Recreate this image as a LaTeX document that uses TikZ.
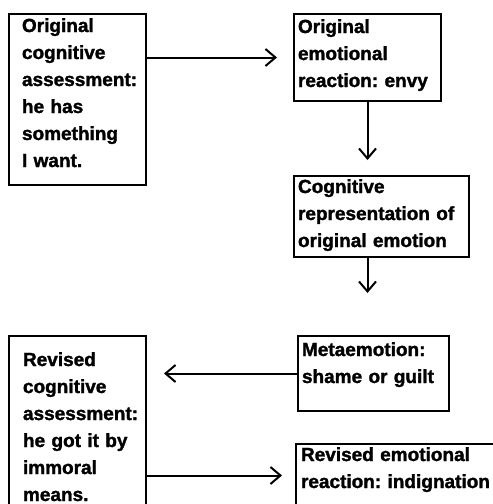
\documentclass[tikz,border=0pt]{standalone}
\usepackage{fontspec}
\setmainfont{Liberation Sans}[BoldFeatures={FakeBold=1.6}]
\usetikzlibrary{arrows.meta}
\tikzset{
  box/.style={draw, line width=2pt, anchor=north west, inner ysep=0pt,
    align=left, font=\fontsize{19}{27}\selectfont\bfseries\frenchspacing},
  arr/.style={line width=2pt, -{Straight Barb[length=10pt,width=17pt,line width=2pt]}}
}
\begin{document}
\begin{tikzpicture}[x=1pt,y=-1pt]
\useasboundingbox (0,0) rectangle (493,504);
% boxes
\node[box, inner xsep=13pt, text width=111pt, text height=18pt, text depth=153pt] (A) at (8,13)
  {Original\\cognitive\\assessment:\\he has\\something\\I want.};
\node[box, inner xsep=4pt, text width=139pt, text height=19pt, text depth=68pt] (B) at (293,13)
  {Original\\emotional\\reaction: envy};
\node[box, inner xsep=4pt, text width=167pt, text height=17pt, text depth=64pt] (C) at (293,175)
  {Cognitive\\representation of\\original emotion};
\node[box, inner xsep=4pt, text width=143pt, text height=20pt, text depth=55pt] (D) at (297,335)
  {Metaemotion:\\shame or guilt};
\node[box, inner xsep=14pt, text width=109pt, text height=30pt, text depth=155pt] (E) at (8,335)
  {Revised\\cognitive\\assessment:\\he got it by\\immoral\\means.};
\node[box, inner xsep=5pt, text width=200pt, text height=17pt, text depth=46pt] (F) at (295,443)
  {Revised emotional\\reaction: indignation};
% connectors
\draw[arr, shorten >=16pt] (A.east |- B.west) -- (B.west);
\draw[arr, shorten >=15pt] (B.south) -- (B.south |- C.north);
\draw[arr, shorten >=42pt] (B.south |- C.south) -- (B.south |- D.north);
\draw[arr, shorten >=17pt] (D.west) -- (D.west -| E.east);
\draw[arr, shorten >=13pt] (E.east |- F.west) -- (F.west);
\end{tikzpicture}
\end{document}
